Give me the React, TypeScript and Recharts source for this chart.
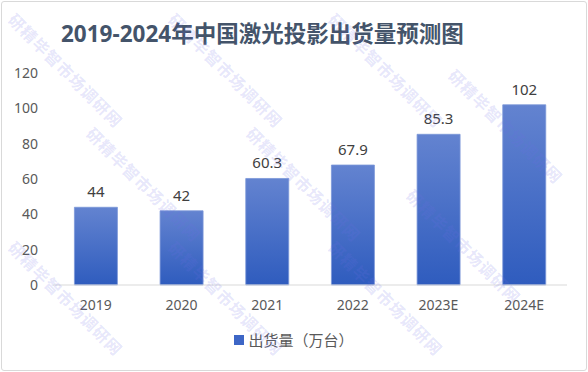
import { BarChart, Bar, XAxis, YAxis, Legend, LabelList } from 'recharts';

const years = ['2019', '2020', '2021', '2022', '2023E', '2024E'];
const shipments = [44, 42, 60.3, 67.9, 85.3, 102];
const yTicks = [0, 20, 40, 60, 80, 100, 120];
const seriesName = '出货量（万台）';
const title = '2019-2024年中国激光投影出货量预测图';
const watermark = '研精毕智市场调研网';

const data = years.map((year, i) => ({ year, value: shipments[i] }));

const FONT = '"Noto Sans", "Noto Sans CJK SC", sans-serif';

// watermark tiles, kept inside the frame
const markSpots = [
  [12, 4], [172, 4], [332, 4], [452, 60],
  [90, 118], [250, 118], [410, 180],
  [12, 232], [172, 232], [332, 232],
];

const LegendBox = () => (
  <div style={{ display: 'flex', justifyContent: 'center', alignItems: 'center', fontFamily: FONT, fontSize: 15, color: '#595959' }}>
    <span style={{ width: 10, height: 10, background: '#3d66c6', marginRight: 4, display: 'inline-block' }} />
    <span>{seriesName}</span>
  </div>
);

export default function App() {
  return (
    <div style={{ position: 'absolute', left: 0, top: 0, width: 588, height: 372, background: '#fff', overflow: 'hidden' }}>
      <div style={{ position: 'absolute', left: 1, top: 1, width: 584, height: 368, border: '1px solid #d9d9d9', borderRadius: 3 }} />
      <div
        style={{
          position: 'absolute', left: 61, top: 16, fontFamily: FONT, fontWeight: 700,
          fontSize: 22.5, color: '#44546a', whiteSpace: 'nowrap',
        }}
      >
        {title}
      </div>
      <BarChart width={588} height={372} data={data} margin={{ top: 73, right: 21, left: 0, bottom: 31 }} barCategoryGap="25%">
        <defs>
          <linearGradient id="barFill" x1="0" y1="0" x2="0" y2="1">
            <stop offset="0%" stopColor="#6383d0" />
            <stop offset="100%" stopColor="#2f5cbe" />
          </linearGradient>
        </defs>
        <XAxis
          dataKey="year"
          height={32}
          tickLine={false}
          tickSize={0}
          tickMargin={15}
          axisLine={{ stroke: '#d9d9d9' }}
          tick={{ fill: '#595959', fontSize: 14, fontFamily: FONT }}
        />
        <YAxis
          width={53}
          domain={[0, 120]}
          ticks={yTicks}
          axisLine={false}
          tickLine={false}
          tickSize={0}
          tickMargin={15}
          tick={{ fill: '#595959', fontSize: 14, fontFamily: FONT }}
        />
        <Legend height={24} content={<LegendBox />} wrapperStyle={{ left: 0, width: 588, bottom: 19 }} />
        <Bar dataKey="value" name={seriesName} fill="url(#barFill)" stroke="#7b97d8" strokeWidth={0.8} isAnimationActive={false}>
          <LabelList dataKey="value" position="top" offset={10} fill="#404040" fontSize={15} fontFamily={FONT} />
        </Bar>
      </BarChart>
      {markSpots.map(([x, y], i) => (
        <div
          key={i}
          style={{
            position: 'absolute', left: x, top: y, transform: 'rotate(45deg)', transformOrigin: 'left center',
            fontFamily: FONT, fontWeight: 700, fontSize: 16, letterSpacing: 1, color: 'rgba(110,110,230,0.18)',
            whiteSpace: 'nowrap', pointerEvents: 'none',
          }}
        >
          {watermark}
        </div>
      ))}
    </div>
  );
}
